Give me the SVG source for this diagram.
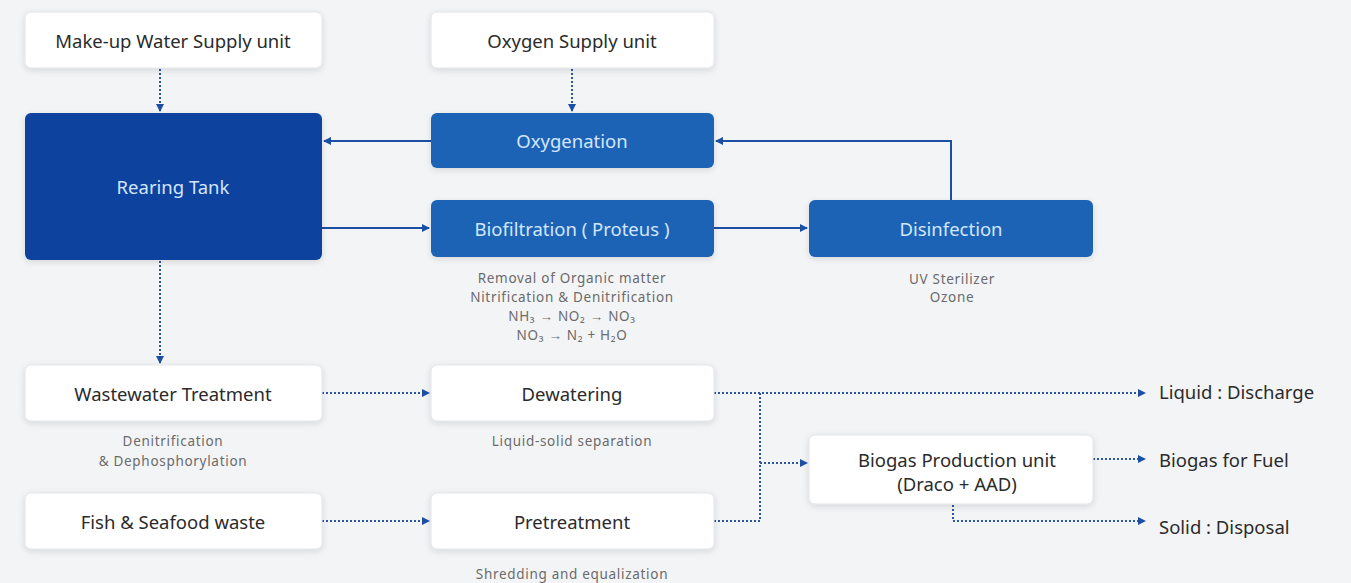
<svg xmlns="http://www.w3.org/2000/svg" width="1351" height="583" viewBox="0 0 1351 583">
<style>
.bg{fill:#f3f4f6}
.wbox{fill:#ffffff;stroke:#e2e4e8;stroke-width:1;filter:url(#sh)}
.dbox{fill:#0a429f;filter:url(#sh)}
.bbox{fill:#1c63b6;filter:url(#sh)}
.t{font-family:"Noto Sans","Liberation Sans",sans-serif;font-size:18.5px;fill:#2b2b2b;text-anchor:middle;dominant-baseline:central}
.tw{font-family:"Noto Sans","Liberation Sans",sans-serif;font-size:18.5px;fill:#d4e6ff;text-anchor:middle;dominant-baseline:central}
.tl{font-family:"Noto Sans","Liberation Sans",sans-serif;font-size:18.5px;fill:#2b2b2b;dominant-baseline:central}
.note{font-family:"Noto Sans","Liberation Sans",sans-serif;font-size:13.5px;letter-spacing:0.7px;fill:#6b6b6b;text-anchor:middle;dominant-baseline:central}
.solid{fill:none;stroke:#1b4fa3;stroke-width:2;marker-end:url(#ah)}
.dot{fill:none;stroke:#2a56a8;stroke-width:2;stroke-dasharray:2 2;marker-end:url(#ah)}
.dotn{fill:none;stroke:#2a56a8;stroke-width:2;stroke-dasharray:2 2}
</style>
<defs>
<filter id="sh" x="-10%" y="-20%" width="120%" height="150%">
<feDropShadow dx="0" dy="2" stdDeviation="3" flood-color="#000" flood-opacity="0.12"/>
</filter>
<marker id="ah" markerWidth="8" markerHeight="8" refX="7" refY="4" orient="auto" markerUnits="userSpaceOnUse">
<path d="M0,0 L8,4 L0,8 Z" fill="#1b4fa3"/>
</marker>
</defs>
<rect class="bg" x="0" y="0" width="1351" height="583"/>

<g id="connectors">
<path class="dot" d="M160,69 V111"/>
<path class="dot" d="M572,69 V111"/>
<path class="solid" d="M431,141 H324"/>
<path class="solid" d="M322,228 H429"/>
<path class="solid" d="M714,228 H807"/>
<path class="solid" d="M951,200 V141 H716"/>
<path class="dot" d="M160,261 V363"/>
<path class="dot" d="M322,393 H429"/>
<path class="dot" d="M322,521 H429"/>
<path class="dot" d="M714,393 H1145"/>
<path class="dotn" d="M714,521 H760 V393"/>
<path class="dot" d="M760,463 H807"/>
<path class="dot" d="M1093,459 H1145"/>
<path class="dot" d="M953,505 V521 H1145"/>
</g>

<g id="makeup"><rect class="wbox" x="25" y="12" width="297" height="56" rx="6"/><text class="t" x="173" y="40">Make-up Water Supply unit</text></g>
<g id="oxygen-supply"><rect class="wbox" x="431" y="12" width="283" height="56" rx="6"/><text class="t" x="572" y="40">Oxygen Supply unit</text></g>
<g id="rearing"><rect class="dbox" x="25" y="113" width="297" height="147" rx="6"/><text class="tw" x="173" y="186">Rearing Tank</text></g>
<g id="oxygenation"><rect class="bbox" x="431" y="113" width="283" height="55" rx="6"/><text class="tw" x="572" y="140">Oxygenation</text></g>
<g id="biofiltration"><rect class="bbox" x="431" y="200" width="283" height="57" rx="6"/><text class="tw" x="572" y="228">Biofiltration ( Proteus )</text>
<text class="note" x="572" y="278">Removal of Organic matter</text>
<text class="note" x="572" y="297">Nitrification &amp; Denitrification</text>
<text class="note" x="572" y="316">NH₃ → NO₂ → NO₃</text>
<text class="note" x="572" y="335">NO₃ → N₂ + H₂O</text></g>
<g id="disinfection"><rect class="bbox" x="809" y="200" width="284" height="57" rx="6"/><text class="tw" x="951" y="228">Disinfection</text>
<text class="note" x="952" y="279">UV Sterilizer</text>
<text class="note" x="952" y="297">Ozone</text></g>
<g id="wastewater"><rect class="wbox" x="25" y="365" width="297" height="56" rx="6"/><text class="t" x="173" y="393">Wastewater Treatment</text>
<text class="note" x="173" y="441">Denitrification</text>
<text class="note" x="173" y="461">&amp; Dephosphorylation</text></g>
<g id="dewatering"><rect class="wbox" x="431" y="365" width="283" height="56" rx="6"/><text class="t" x="572" y="393">Dewatering</text>
<text class="note" x="572" y="441">Liquid-solid separation</text></g>
<g id="fish"><rect class="wbox" x="25" y="493" width="297" height="56" rx="6"/><text class="t" x="173" y="521">Fish &amp; Seafood waste</text></g>
<g id="pretreatment"><rect class="wbox" x="431" y="493" width="283" height="56" rx="6"/><text class="t" x="572" y="521">Pretreatment</text>
<text class="note" x="572" y="574">Shredding and equalization</text></g>
<g id="biogas"><rect class="wbox" x="809" y="435" width="284" height="69" rx="6"/><text class="t" x="957" y="459">Biogas Production unit</text><text class="t" x="957" y="483">(Draco + AAD)</text></g>
<g id="liquid"><text class="tl" x="1159" y="391">Liquid : Discharge</text></g>
<g id="biogas-fuel"><text class="tl" x="1159" y="459">Biogas for Fuel</text></g>
<g id="solid"><text class="tl" x="1159" y="526">Solid :  Disposal</text></g>
</svg>
